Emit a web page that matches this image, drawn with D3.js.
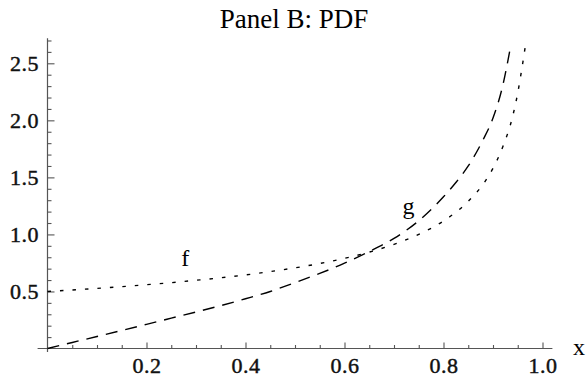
<!DOCTYPE html>
<html>
<head>
<meta charset="utf-8">
<script src="https://cdn.jsdelivr.net/npm/d3@7"></script>
<style>
  html, body { margin: 0; padding: 0; background: #fff; }
  svg { display: block; }
</style>
</head>
<body>
<svg id="chart" width="587" height="378"></svg>
<script>
// ---- data ----
const title = "Panel B: PDF";
const fX = [0, 0.05, 0.1, 0.15, 0.2, 0.25, 0.3, 0.35, 0.4, 0.45, 0.5, 0.55, 0.6, 0.65, 0.7, 0.75, 0.8, 0.85, 0.88, 0.9, 0.92, 0.94, 0.95, 0.96, 0.965];
const fY = [0.50, 0.513, 0.527, 0.542, 0.559, 0.577, 0.598, 0.62, 0.645, 0.674, 0.707, 0.745, 0.79, 0.845, 0.913, 1.0, 1.118, 1.29, 1.44, 1.58, 1.77, 2.04, 2.24, 2.5, 2.64];
const gX = [0, 0.05, 0.1, 0.15, 0.2, 0.25, 0.3, 0.35, 0.4, 0.45, 0.5, 0.55, 0.6, 0.65, 0.7, 0.75, 0.8, 0.825, 0.85, 0.88, 0.9, 0.92, 0.936];
const gY = [0, 0.053, 0.105, 0.158, 0.212, 0.266, 0.32, 0.376, 0.436, 0.50, 0.578, 0.658, 0.748, 0.85, 0.965, 1.12, 1.33, 1.455, 1.60, 1.83, 2.02, 2.31, 2.66];
const xMajorTicks = [0.2, 0.4, 0.6, 0.8, 1.0];
const xTickLabels = ["0.2", "0.4", "0.6", "0.8", "1.0"];
const yMajorTicks = [0.5, 1.0, 1.5, 2.0, 2.5];
const yTickLabels = ["0.5", "1.0", "1.5", "2.0", "2.5"];
const xMinorTicks = [0.05, 0.1, 0.15, 0.25, 0.3, 0.35, 0.45, 0.5, 0.55, 0.65, 0.7, 0.75, 0.85, 0.9, 0.95];
const yMinorTicks = [0.1, 0.2, 0.3, 0.4, 0.6, 0.7, 0.8, 0.9, 1.1, 1.2, 1.3, 1.4, 1.6, 1.7, 1.8, 1.9, 2.1, 2.2, 2.3, 2.4, 2.6, 2.7];
const curveLabels = [{text: "f", x: 0.27, y: 0.72}, {text: "g", x: 0.717, y: 1.18}];
const xAxisLabel = "x";

// ---- layout ----
const svg = d3.select("#chart");
const x = d3.scaleLinear().domain([0, 1]).range([47.5, 542.5]);
const y = d3.scaleLinear().domain([0, 2.5]).range([348.5, 63.3]);
const axisColor = "#555";
const serif = "'Liberation Serif', 'Times New Roman', serif";

// title
svg.append("text")
  .attr("x", 294).attr("y", 28)
  .attr("text-anchor", "middle")
  .attr("font-family", serif).attr("font-size", 27)
  .attr("fill", "#000")
  .text(title);

// axis lines
svg.append("line")
  .attr("x1", x(-0.02)).attr("x2", x(1.02))
  .attr("y1", y(0)).attr("y2", y(0))
  .attr("stroke", axisColor).attr("stroke-width", 1.2);
svg.append("line")
  .attr("x1", x(0)).attr("x2", x(0))
  .attr("y1", y(-0.03)).attr("y2", y(2.72))
  .attr("stroke", axisColor).attr("stroke-width", 1.2);

function styleTickText(sel) {
  sel.attr("font-family", serif).attr("font-size", 22)
    .attr("fill", "#111").attr("stroke", "#111").attr("stroke-width", 0.45)
    .attr("letter-spacing", 0.5);
}

// x axis ticks (pointing up into the plot)
const gxMinor = svg.append("g").attr("transform", `translate(0,${y(0)})`)
  .call(d3.axisBottom(x).tickValues(xMinorTicks).tickSize(-3.5).tickFormat(""));
const gxMajor = svg.append("g").attr("transform", `translate(0,${y(0)})`)
  .call(d3.axisBottom(x).tickValues(xMajorTicks).tickSize(-6).tickPadding(10)
    .tickFormat((d, i) => xTickLabels[i]));
[gxMinor, gxMajor].forEach(g => {
  g.select(".domain").remove();
  g.selectAll(".tick line").attr("stroke", axisColor).attr("stroke-width", 1.1);
});
gxMajor.selectAll(".tick text").call(styleTickText)
  .attr("y", 24.5).attr("dy", null);

// y axis ticks (pointing right into the plot)
const gyMinor = svg.append("g").attr("transform", `translate(${x(0)},0)`)
  .call(d3.axisLeft(y).tickValues(yMinorTicks).tickSize(-4).tickFormat(""));
const gyMajor = svg.append("g").attr("transform", `translate(${x(0)},0)`)
  .call(d3.axisLeft(y).tickValues(yMajorTicks).tickSize(-7).tickPadding(9)
    .tickFormat((d, i) => yTickLabels[i]));
[gyMinor, gyMajor].forEach(g => {
  g.select(".domain").remove();
  g.selectAll(".tick line").attr("stroke", axisColor).attr("stroke-width", 1.1);
});
gyMajor.selectAll(".tick text").call(styleTickText)
  .attr("x", -8.5).attr("dy", "0.34em");

// axis label
svg.append("text")
  .attr("x", 573).attr("y", 355)
  .attr("font-family", serif).attr("font-size", 24).attr("fill", "#000")
  .text(xAxisLabel);

// curves
const line = d3.line().x(d => x(d[0])).y(d => y(d[1])).curve(d3.curveMonotoneX);
const fData = fX.map((v, i) => [v, fY[i]]);
const gData = gX.map((v, i) => [v, gY[i]]);

svg.append("path").datum(fData)
  .attr("d", line).attr("fill", "none")
  .attr("stroke", "#000").attr("stroke-width", 1.4)
  .attr("stroke-dasharray", "3.5,9");
svg.append("path").datum(gData)
  .attr("d", line).attr("fill", "none")
  .attr("stroke", "#000").attr("stroke-width", 1.4)
  .attr("stroke-dasharray", "12,8");

// curve labels
svg.selectAll(".clabel").data(curveLabels).enter().append("text")
  .attr("class", "clabel")
  .attr("x", d => x(d.x)).attr("y", d => y(d.y))
  .attr("font-family", serif).attr("font-size", 24).attr("fill", "#000")
  .text(d => d.text);
</script>
</body>
</html>
